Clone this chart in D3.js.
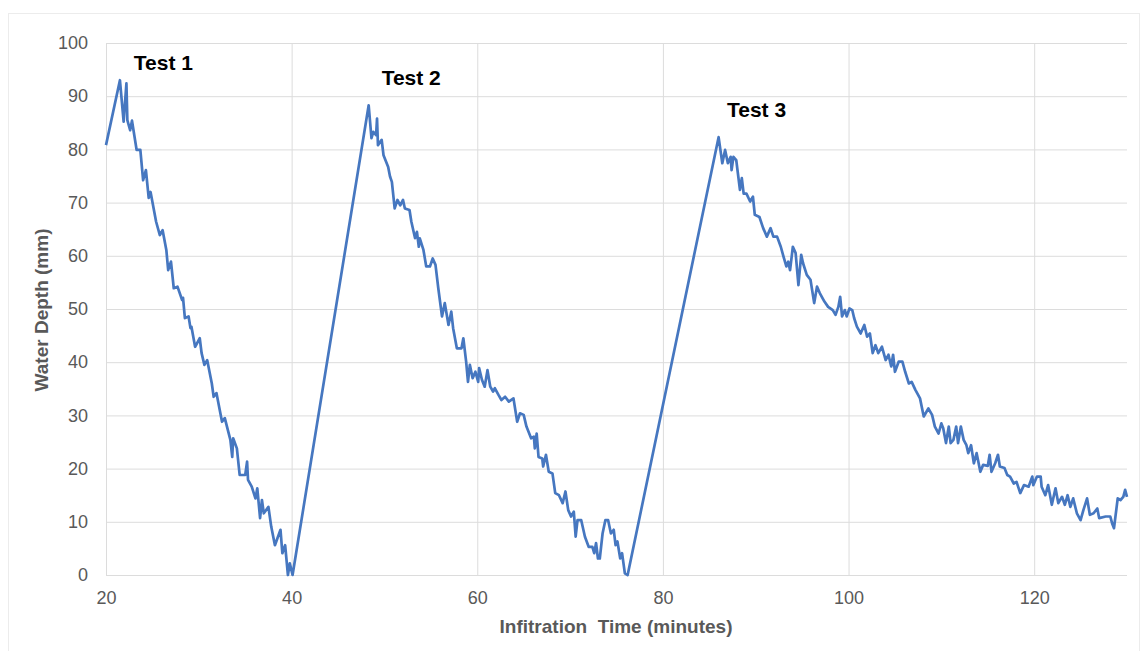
<!DOCTYPE html>
<html>
<head>
<meta charset="utf-8">
<script src="https://cdn.jsdelivr.net/npm/d3@7"></script>
<style>
  body { margin: 0; background: #fff; }
  svg { display: block; font-family: 'Liberation Sans', Arial, sans-serif; }
</style>
</head>
<body>
<div id="chart"></div>
<script>
// infiltration record (minutes, mm)
var timeMin = [
  20.0, 21.5, 21.9, 22.2, 22.3, 22.6, 22.8, 23.3, 23.7, 24.0, 24.3, 24.6, 24.8, 25.4, 25.8, 26.1,
  26.5, 26.7, 27.0, 27.3, 27.7, 28.2, 28.3, 28.5, 28.9, 29.1, 29.2, 29.6, 30.1, 30.3, 30.6, 30.9,
  31.4, 31.6, 31.9, 32.5, 32.8, 33.4, 33.6, 33.7, 34.1, 34.4, 35.0, 35.2, 35.3, 35.7, 36.1, 36.3,
  36.6, 36.8, 37.0, 37.5, 37.8, 38.2, 38.8, 39.0, 39.3, 39.6, 39.8, 40.1,
  48.3, 48.6, 48.8, 49.1, 49.2, 49.3, 49.7, 49.9, 50.4, 50.6, 50.8, 51.1, 51.4, 51.7, 52.0, 52.2,
  52.7, 52.9, 53.3, 53.5, 53.7, 53.8, 54.2, 54.5, 54.9, 55.2, 55.5, 55.8, 56.2, 56.5, 56.9, 57.2,
  57.4, 57.8, 58.3, 58.5, 58.8, 59.0, 59.2, 59.5, 59.8, 60.1, 60.2, 60.5, 60.8, 61.1, 61.4, 61.7,
  61.9, 62.3, 62.6, 63.0, 63.4, 63.9, 64.3, 64.6, 65.0, 65.3, 65.8, 66.1, 66.2, 66.4, 66.6, 67.0,
  67.1, 67.4, 67.7, 68.1, 68.4, 68.8, 69.2, 69.5, 69.8, 70.1, 70.4, 70.6, 70.8, 71.2, 71.6, 72.0,
  72.4, 72.6, 72.8, 73.0, 73.2, 73.5, 73.8, 74.1, 74.4, 74.7, 74.9, 75.1, 75.4, 75.6, 75.9, 76.2,
  86.0, 86.4, 86.7, 87.0, 87.3, 87.4, 87.6, 87.9, 88.3, 88.5, 88.7, 89.0, 89.4, 89.7, 89.9, 90.4,
  90.8, 91.2, 91.6, 91.9, 92.3, 92.7, 93.0, 93.3, 93.5, 93.7, 94.0, 94.3, 94.6, 94.9, 95.1, 95.5,
  95.9, 96.3, 96.6, 96.9, 97.4, 97.8, 98.3, 98.6, 98.9, 99.1, 99.3, 99.6, 99.8, 100.1, 100.4, 100.6,
  100.9, 101.3, 101.7, 102.0, 102.3, 102.6, 102.9, 103.2, 103.6, 104.0, 104.3, 104.6, 104.8, 105.0,
  105.4, 105.8, 106.1, 106.5, 106.8, 107.2, 107.7, 108.1, 108.6, 109.0, 109.3, 109.7, 110.0, 110.2,
  110.5, 110.8, 111.0, 111.3, 111.6, 111.8, 112.1, 112.4, 112.7, 112.9, 113.2, 113.5, 113.8, 114.2,
  114.5, 115.0, 115.2, 115.4, 115.8, 116.1, 116.3, 116.8, 117.1, 117.4, 117.8, 118.1, 118.5, 118.9,
  119.4, 119.8, 119.9, 120.3, 120.7, 120.8, 121.2, 121.5, 121.9, 122.3, 122.6, 123.0, 123.3, 123.6,
  123.9, 124.2, 124.6, 125.0, 125.3, 125.7, 126.0, 126.4, 126.8, 127.0, 127.7, 128.2, 128.4, 128.6,
  129.0, 129.3, 129.6, 129.8, 130.0
]
var depthMm = [
  80.8, 93.0, 85.2, 92.4, 85.5, 83.6, 85.4, 79.9, 79.9, 74.2, 76.1, 70.9, 72.0, 66.4, 63.9, 64.8,
  61.1, 57.3, 58.9, 53.9, 54.2, 51.7, 52.1, 48.3, 48.6, 46.4, 46.7, 42.9, 44.5, 41.7, 39.5, 40.4,
  36.0, 33.5, 34.2, 28.8, 29.5, 25.4, 22.2, 25.7, 23.8, 18.8, 18.8, 21.3, 17.9, 16.6, 14.4, 16.3,
  10.7, 14.1, 11.6, 12.8, 9.1, 5.6, 8.5, 4.1, 5.6, 0.0, 2.2, 0.0,
  88.3, 82.1, 83.3, 82.7, 85.8, 80.8, 81.8, 78.9, 76.7, 74.9, 73.9, 68.9, 70.5, 69.5, 70.5, 68.9,
  68.6, 66.4, 63.3, 64.5, 61.7, 63.3, 61.1, 58.0, 58.0, 59.5, 58.3, 53.9, 48.6, 51.1, 47.0, 49.5,
  46.4, 42.6, 42.6, 44.5, 40.1, 36.3, 39.5, 37.0, 38.2, 36.3, 38.9, 36.7, 35.4, 38.5, 35.4, 34.5,
  35.1, 33.8, 32.9, 33.5, 32.6, 33.2, 28.8, 30.4, 30.1, 27.9, 25.7, 26.0, 23.8, 26.6, 22.2, 21.9,
  20.4, 22.6, 19.4, 19.1, 15.4, 15.0, 13.5, 15.7, 12.2, 11.0, 11.9, 7.2, 10.3, 10.3, 7.2, 5.3,
  5.3, 4.1, 6.0, 3.1, 3.1, 7.8, 10.3, 10.3, 7.8, 8.5, 5.6, 6.3, 3.1, 4.1, 0.3, 0.0,
  82.3, 77.4, 79.9, 77.4, 78.6, 76.1, 78.6, 78.0, 72.4, 74.6, 71.7, 71.7, 70.2, 71.1, 67.7, 67.3,
  65.2, 63.6, 65.2, 63.6, 63.6, 61.7, 59.8, 58.0, 58.9, 57.3, 61.7, 60.5, 54.5, 60.2, 58.6, 56.4,
  55.5, 51.1, 54.2, 53.0, 51.4, 50.4, 49.8, 48.9, 50.4, 52.3, 48.6, 49.8, 48.6, 50.1, 49.8, 48.3,
  46.7, 45.4, 47.0, 44.8, 45.4, 41.7, 43.2, 41.7, 42.9, 40.4, 41.4, 39.2, 41.4, 38.2,
  40.1, 40.1, 38.2, 36.0, 36.3, 34.8, 33.2, 29.8, 31.3, 30.1, 27.9, 26.6, 28.5, 27.6,
  24.8, 27.9, 24.8, 25.4, 27.9, 24.8, 27.9, 25.4, 24.4, 22.9, 24.4, 21.0, 22.9, 19.4,
  20.7, 20.5, 22.6, 19.4, 21.0, 22.6, 20.4, 20.1, 18.8, 18.5, 17.2, 17.5, 15.4, 16.9,
  16.6, 18.5, 16.9, 18.5, 18.5, 16.6, 15.0, 16.9, 13.2, 16.3, 13.5, 14.7, 13.2, 15.0,
  12.8, 14.4, 11.6, 10.3, 12.2, 14.4, 11.3, 11.6, 12.5, 10.7, 11.0, 11.0, 9.7, 8.8,
  14.4, 14.1, 14.7, 16.0, 14.7
]
var xTicks = [20, 40, 60, 80, 100, 120]
var yTicks = [0, 10, 20, 30, 40, 50, 60, 70, 80, 90, 100]
var testNames = ['Test 1', 'Test 2', 'Test 3']
var testLabelX = [23.0, 49.7, 86.9]
var testLabelY = [94.9, 92.1, 86.1]

var W = 1146, H = 651
var margin = { top: 43, right: 19, bottom: 76, left: 106 }
var width = W - margin.left - margin.right
var height = H - margin.top - margin.bottom

var svg = d3.select('#chart')
  .append('svg')
  .attr('width', W)
  .attr('height', H)

// faint frame around the chart area
svg.append('rect')
  .attr('x', 8.5).attr('y', 13.5)
  .attr('width', 1131).attr('height', 650)
  .attr('fill', 'none')
  .attr('stroke', '#ececec')

var g = svg.append('g')
  .attr('transform', 'translate(' + margin.left + ',' + margin.top + ')')

var x = d3.scaleLinear().domain([20, 130]).range([0, width])
var y = d3.scaleLinear().domain([0, 100]).range([height, 0])

// gridlines
g.append('g')
  .call(d3.axisLeft(y).tickValues(yTicks).tickSize(-width).tickFormat(''))
  .call(function (a) { a.select('.domain').remove() })
  .selectAll('line').attr('stroke', '#dcdcdc')

g.append('g')
  .attr('transform', 'translate(0,' + height + ')')
  .call(d3.axisBottom(x).tickValues(xTicks).tickSize(-height).tickFormat(''))
  .call(function (a) { a.select('.domain').remove() })
  .selectAll('line').attr('stroke', '#dcdcdc')

// tick labels
g.append('g')
  .call(d3.axisLeft(y).tickValues(yTicks).tickSize(0).tickPadding(18))
  .call(function (a) { a.select('.domain').remove() })
  .selectAll('text')
  .style('font-size', '18px')
  .style('font-family', "'Liberation Sans', Arial, sans-serif")
  .attr('fill', '#595959')

g.append('g')
  .attr('transform', 'translate(0,' + height + ')')
  .call(d3.axisBottom(x).tickValues(xTicks).tickSize(0).tickPadding(16))
  .call(function (a) { a.select('.domain').remove() })
  .selectAll('text')
  .style('font-size', '18px')
  .style('font-family', "'Liberation Sans', Arial, sans-serif")
  .attr('fill', '#595959')

// series
var series = timeMin.map(function (t, i) { return { t: t, d: depthMm[i] } })
var line = d3.line()
  .x(function (d) { return x(d.t) })
  .y(function (d) { return y(d.d) })

g.append('path')
  .datum(series)
  .attr('d', line)
  .attr('fill', 'none')
  .attr('stroke', '#4677c0')
  .attr('stroke-width', 2.7)
  .attr('stroke-linejoin', 'round')

// test labels
g.selectAll('.test-label')
  .data(testNames)
  .enter()
  .append('text')
  .attr('class', 'test-label')
  .attr('x', function (d, i) { return x(testLabelX[i]) })
  .attr('y', function (d, i) { return y(testLabelY[i]) })
  .text(function (d) { return d })
  .style('font-size', '21px')
  .style('font-weight', 'bold')
  .attr('fill', '#000')

// axis titles
svg.append('text')
  .attr('x', 616)
  .attr('y', 633)
  .attr('text-anchor', 'middle')
  .style('font-size', '19px')
  .style('font-weight', 'bold')
  .style('white-space', 'pre')
  .attr('fill', '#595959')
  .text('Infitration  Time (minutes)')

svg.append('text')
  .attr('transform', 'translate(48,310) rotate(-90)')
  .attr('text-anchor', 'middle')
  .style('font-size', '19px')
  .style('font-weight', 'bold')
  .attr('fill', '#595959')
  .text('Water Depth (mm)')
</script>
</body>
</html>
